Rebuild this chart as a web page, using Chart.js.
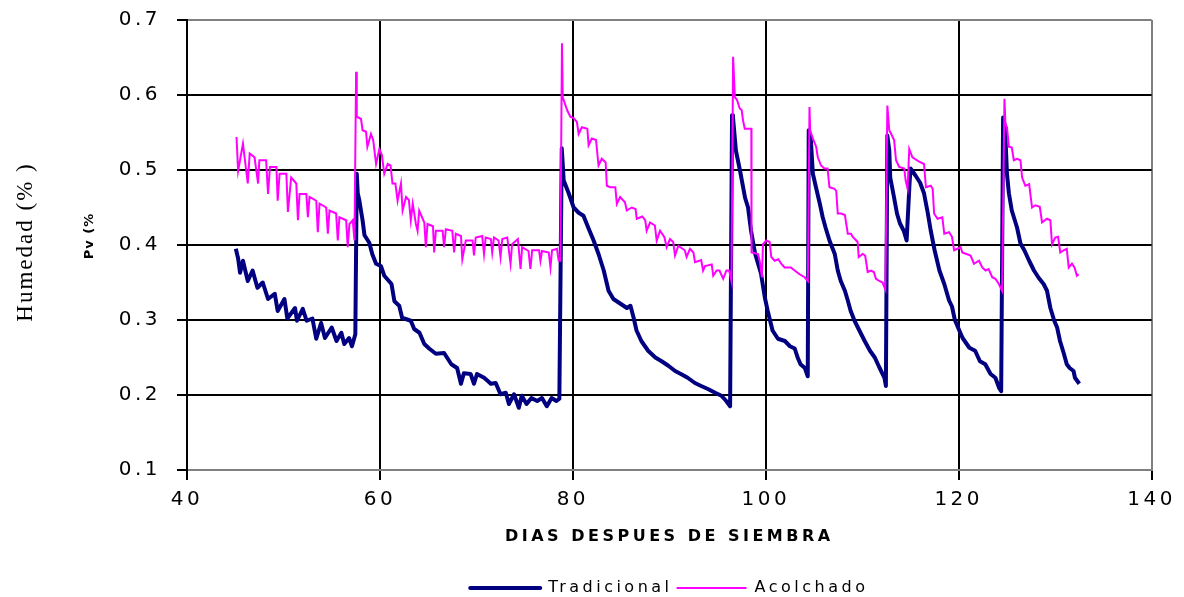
<!DOCTYPE html>
<html>
<head>
<meta charset="utf-8">
<script src="https://cdn.jsdelivr.net/npm/chart.js@4/dist/chart.umd.min.js"></script>
<style>
  html, body { margin: 0; background: #fff; }
  #wrap { width: 1184px; height: 597px; }
</style>
</head>
<body>
<div id="wrap"><canvas id="chart"></canvas></div>
<script>
// días después de siembra / humedad
const tradDia = [
  45.06, 45.3, 45.5, 45.8, 46.3, 46.8, 47.3, 47.85, 48.4, 49.1, 49.4, 50.1, 50.4, 51.2, 51.4, 52.0, 52.4, 53.0, 53.4, 53.9,
  54.3, 55.0, 55.5, 56.0, 56.3, 56.8, 57.1, 57.45, 57.6, 57.7, 57.87, 58.2, 58.4, 58.9, 59.2, 59.6, 60.1, 60.45, 61.2, 61.5,
  62.0, 62.3, 63.2, 63.55, 64.1, 64.6, 65.1, 65.8, 66.65, 67.4, 68.0, 68.4, 68.7, 69.4, 69.75, 70.06, 70.8, 71.5, 72.0, 72.5,
  73.05, 73.37, 73.9, 74.4, 74.7, 75.2, 75.7, 76.3, 76.8, 77.3, 77.8, 78.3, 78.6, 78.85, 79.05, 79.57, 80.08, 80.6, 81.1, 81.6,
  82.15, 82.66, 83.2, 83.7, 84.2, 84.9, 85.6, 85.97, 86.3, 86.6, 87.1, 87.8, 88.55, 89.2, 89.9, 90.6, 91.2, 91.9, 92.65, 93.3,
  94.0, 94.75, 95.4, 95.9, 96.3, 96.5, 96.6, 96.9, 97.33, 97.85, 98.16, 98.47, 98.9, 99.5, 99.9, 100.2, 100.7, 101.26, 101.98, 102.5,
  103.0, 103.3, 103.6, 104.05, 104.35, 104.45, 104.67, 104.88, 105.2, 105.6, 105.9, 106.2, 106.6, 107.15, 107.46, 107.77, 108.2, 108.5, 108.8, 109.2,
  109.7, 110.25, 110.8, 111.3, 111.8, 112.3, 112.45, 112.6, 112.8, 112.9, 113.3, 113.6, 113.9, 114.3, 114.6, 114.9, 115.0, 115.5, 116.0, 116.4,
  116.8, 117.1, 117.5, 118.0, 118.5, 119.0, 119.3, 119.6, 120.06, 120.4, 121.1, 121.7, 122.2, 122.75, 123.3, 123.8, 124.2, 124.4, 124.6, 124.8,
  125.0, 125.2, 125.5, 126.05, 126.4, 126.8, 127.3, 127.8, 128.3, 128.8, 129.15, 129.5, 129.9, 130.2, 130.5, 130.9, 131.2, 131.5, 131.9, 132.05,
  132.5
];
const tradPv = [
  0.395, 0.382, 0.363, 0.379, 0.352, 0.366, 0.343, 0.350, 0.328, 0.335, 0.312, 0.328, 0.302, 0.316, 0.299, 0.315, 0.299, 0.302, 0.275, 0.296,
  0.276, 0.290, 0.272, 0.283, 0.268, 0.276, 0.265, 0.281, 0.495, 0.469, 0.459, 0.433, 0.413, 0.403, 0.388, 0.375, 0.372, 0.359, 0.348, 0.325,
  0.319, 0.303, 0.299, 0.288, 0.283, 0.268, 0.262, 0.255, 0.256, 0.241, 0.236, 0.215, 0.229, 0.228, 0.215, 0.228, 0.223, 0.215, 0.216, 0.201,
  0.203, 0.188, 0.201, 0.183, 0.199, 0.188, 0.196, 0.192, 0.196, 0.185, 0.196, 0.192, 0.195, 0.529, 0.486, 0.469, 0.450, 0.443, 0.439, 0.423,
  0.406, 0.388, 0.366, 0.339, 0.328, 0.322, 0.316, 0.319, 0.303, 0.286, 0.272, 0.259, 0.250, 0.245, 0.239, 0.232, 0.228, 0.223, 0.216, 0.212,
  0.208, 0.203, 0.199, 0.192, 0.185, 0.573, 0.570, 0.526, 0.499, 0.463, 0.450, 0.419, 0.388, 0.362, 0.330, 0.312, 0.286, 0.275, 0.272, 0.265,
  0.262, 0.250, 0.241, 0.236, 0.225, 0.553, 0.540, 0.495, 0.477, 0.455, 0.437, 0.423, 0.406, 0.388, 0.366, 0.352, 0.339, 0.326, 0.312, 0.299,
  0.286, 0.272, 0.259, 0.250, 0.236, 0.223, 0.212, 0.546, 0.526, 0.490, 0.463, 0.442, 0.429, 0.419, 0.406, 0.482, 0.502, 0.493, 0.483, 0.469,
  0.442, 0.419, 0.393, 0.366, 0.348, 0.326, 0.318, 0.300, 0.286, 0.276, 0.263, 0.259, 0.245, 0.241, 0.228, 0.223, 0.209, 0.205, 0.570, 0.557,
  0.495, 0.469, 0.446, 0.423, 0.402, 0.393, 0.379, 0.366, 0.356, 0.348, 0.339, 0.316, 0.299, 0.290, 0.272, 0.255, 0.241, 0.236, 0.232, 0.223,
  0.215
];
const acolDia = [
  45.13, 45.3, 45.8, 46.3, 46.5, 47.0, 47.37, 47.5, 48.2, 48.4, 48.6, 49.27, 49.4, 49.6, 50.3, 50.46, 50.8, 51.33, 51.5, 51.67,
  52.37, 52.53, 52.7, 53.4, 53.56, 53.74, 54.43, 54.6, 54.77, 55.46, 55.63, 55.8, 56.5, 56.66, 56.84, 57.18, 57.36, 57.53, 57.6, 58.04,
  58.2, 58.56, 58.7, 59.07, 59.3, 59.6, 59.94, 60.2, 60.45, 60.8, 61.1, 61.3, 61.6, 61.83, 62.18, 62.35, 62.7, 63.0, 63.2, 63.4,
  63.73, 63.9, 64.07, 64.6, 64.76, 64.93, 65.5, 65.62, 65.8, 66.5, 66.65, 66.83, 67.5, 67.69, 67.86, 68.4, 68.54, 68.9, 69.6, 69.75,
  69.93, 70.6, 70.79, 70.96, 71.5, 71.64, 71.82, 72.3, 72.5, 72.68, 73.2, 73.54, 73.7, 74.3, 74.58, 74.74, 75.4, 75.6, 75.78, 76.5,
  76.64, 76.8, 77.5, 77.68, 77.84, 78.35, 78.53, 78.7, 78.87, 78.95, 79.4, 79.74, 80.1, 80.42, 80.6, 80.94, 81.5, 81.63, 81.97, 82.4,
  82.66, 83.0, 83.4, 83.52, 83.87, 84.4, 84.56, 84.9, 85.4, 85.59, 86.1, 86.5, 86.62, 87.2, 87.5, 87.65, 88.0, 88.5, 88.69, 89.04,
  89.5, 89.72, 90.07, 90.4, 90.59, 90.93, 91.6, 91.79, 92.14, 92.5, 92.66, 93.3, 93.5, 93.7, 94.4, 94.55, 94.9, 95.2, 95.58, 95.92,
  96.2, 96.44, 96.61, 96.79, 97.0, 97.3, 97.5, 97.64, 97.82, 98.5, 98.52, 99.19, 99.37, 99.6, 99.71, 100.05, 100.4, 100.57, 100.92, 101.3,
  101.6, 101.95, 102.6, 102.99, 103.5, 104.02, 104.36, 104.53, 104.6, 104.88, 105.22, 105.39, 105.73, 106.08, 106.4, 106.6, 107.12, 107.3, 107.46, 107.8,
  108.2, 108.5, 108.83, 109.0, 109.52, 109.63, 110.04, 110.3, 110.56, 110.9, 111.2, 111.42, 111.77, 112.1, 112.39, 112.6, 112.8, 113.0, 113.3, 113.5,
  113.83, 114.35, 114.5, 114.7, 114.87, 115.2, 115.9, 116.4, 116.6, 117.1, 117.3, 117.45, 117.8, 118.3, 118.5, 119.0, 119.3, 119.52, 119.86, 120.2,
  120.37, 120.8, 121.23, 121.58, 122.1, 122.44, 122.78, 123.1, 123.47, 123.8, 124.16, 124.5, 124.74, 124.84, 125.0, 125.2, 125.5, 125.71, 126.05, 126.4,
  126.57, 126.9, 127.3, 127.6, 127.94, 128.4, 128.64, 129.15, 129.5, 129.67, 130.0, 130.3, 130.53, 130.88, 131.2, 131.4, 131.74, 132.0, 132.25, 132.43
];
const acolPv = [
  0.544, 0.499, 0.535, 0.482, 0.522, 0.517, 0.482, 0.513, 0.513, 0.468, 0.504, 0.504, 0.459, 0.495, 0.495, 0.444, 0.490, 0.482, 0.433, 0.468,
  0.468, 0.437, 0.464, 0.459, 0.417, 0.455, 0.450, 0.415, 0.446, 0.442, 0.406, 0.437, 0.433, 0.397, 0.428, 0.433, 0.406, 0.631, 0.571, 0.568,
  0.553, 0.551, 0.531, 0.548, 0.540, 0.508, 0.528, 0.520, 0.495, 0.508, 0.506, 0.482, 0.482, 0.459, 0.482, 0.446, 0.464, 0.460, 0.433, 0.455,
  0.428, 0.419, 0.446, 0.430, 0.397, 0.428, 0.425, 0.390, 0.419, 0.419, 0.397, 0.421, 0.419, 0.390, 0.415, 0.412, 0.381, 0.406, 0.406, 0.386,
  0.410, 0.412, 0.388, 0.410, 0.408, 0.390, 0.410, 0.406, 0.384, 0.408, 0.410, 0.375, 0.401, 0.408, 0.368, 0.397, 0.392, 0.368, 0.393, 0.393,
  0.379, 0.392, 0.390, 0.370, 0.393, 0.395, 0.379, 0.379, 0.669, 0.597, 0.580, 0.571, 0.569, 0.564, 0.548, 0.557, 0.555, 0.533, 0.542, 0.540,
  0.506, 0.515, 0.510, 0.479, 0.477, 0.477, 0.455, 0.464, 0.457, 0.446, 0.450, 0.448, 0.435, 0.438, 0.433, 0.419, 0.430, 0.426, 0.406, 0.419,
  0.410, 0.397, 0.408, 0.404, 0.386, 0.399, 0.393, 0.384, 0.395, 0.390, 0.377, 0.380, 0.366, 0.372, 0.374, 0.359, 0.366, 0.366, 0.355, 0.366,
  0.366, 0.352, 0.651, 0.597, 0.594, 0.582, 0.580, 0.566, 0.555, 0.555, 0.390, 0.388, 0.379, 0.357, 0.401, 0.406, 0.404, 0.384, 0.379, 0.381,
  0.375, 0.370, 0.370, 0.366, 0.361, 0.357, 0.352, 0.584, 0.553, 0.542, 0.531, 0.517, 0.506, 0.502, 0.502, 0.477, 0.475, 0.472, 0.442, 0.442,
  0.440, 0.415, 0.415, 0.411, 0.404, 0.384, 0.388, 0.386, 0.364, 0.366, 0.364, 0.355, 0.352, 0.350, 0.341, 0.586, 0.553, 0.548, 0.540, 0.513,
  0.504, 0.502, 0.486, 0.475, 0.528, 0.517, 0.511, 0.508, 0.477, 0.479, 0.475, 0.442, 0.435, 0.437, 0.415, 0.417, 0.411, 0.393, 0.395, 0.397,
  0.390, 0.388, 0.386, 0.375, 0.379, 0.370, 0.366, 0.368, 0.357, 0.355, 0.348, 0.339, 0.595, 0.562, 0.557, 0.531, 0.530, 0.513, 0.515, 0.513,
  0.490, 0.479, 0.481, 0.450, 0.453, 0.451, 0.430, 0.435, 0.433, 0.401, 0.410, 0.411, 0.390, 0.393, 0.395, 0.370, 0.375, 0.370, 0.359, 0.361
];
const xTicks = [40, 60, 80, 100, 120, 140];
const yTicks = [0.1, 0.2, 0.3, 0.4, 0.5, 0.6, 0.7];

const toPoints = (xs, ys) => xs.map((x, i) => ({ x: x, y: ys[i] }));

const SANS = '"DejaVu Sans", Verdana, sans-serif';

// Excel-like spaced lettering
const spacing = {
  id: 'spacing',
  beforeUpdate(chart) { chart.ctx.letterSpacing = '3.5px'; },
  beforeDraw(chart) { chart.ctx.letterSpacing = '3.5px'; }
};

const sideTitles = {
  id: 'sideTitles',
  afterDraw(chart) {
    const ctx = chart.ctx;
    ctx.save();
    ctx.fillStyle = '#000';
    ctx.textAlign = 'center';
    ctx.textBaseline = 'middle';
    ctx.letterSpacing = '2px';
    ctx.translate(26, 242);
    ctx.rotate(-Math.PI / 2);
    ctx.font = '23px "Liberation Serif", "Times New Roman", serif';
    ctx.fillText('Humedad (% )', 0, 0);
    ctx.restore();

    ctx.save();
    ctx.fillStyle = '#000';
    ctx.textAlign = 'center';
    ctx.textBaseline = 'middle';
    ctx.letterSpacing = '1px';
    ctx.translate(90, 236);
    ctx.rotate(-Math.PI / 2);
    ctx.font = 'bold 13px ' + SANS;
    ctx.fillText('Pv (%', 0, 0);
    ctx.restore();
  }
};

new Chart(document.getElementById('chart'), {
  type: 'line',
  data: {
    datasets: [
      {
        label: 'Tradicional',
        data: toPoints(tradDia, tradPv),
        borderColor: '#000080',
        backgroundColor: '#000080',
        borderWidth: 4,
        pointRadius: 0,
        tension: 0,
        borderJoinStyle: 'round',
        order: 1
      },
      {
        label: 'Acolchado',
        data: toPoints(acolDia, acolPv),
        borderColor: '#ff00ff',
        backgroundColor: '#ff00ff',
        borderWidth: 2,
        pointRadius: 0,
        tension: 0,
        order: 0
      }
    ]
  },
  options: {
    responsive: true,
    maintainAspectRatio: false,
    animation: false,
    layout: { padding: { top: 20, right: 29, left: 0, bottom: -9 } },
    scales: {
      x: {
        type: 'linear',
        min: 40,
        max: 140,
        afterBuildTicks: (s) => { s.ticks = xTicks.map(v => ({ value: v })); },
        afterFit: (s) => { s.height = 106; },
        ticks: {
          color: '#000',
          padding: 8,
          maxRotation: 0,
          font: { family: SANS, size: 20 }
        },
        grid: {
          color: (c) => (c.tick && c.tick.value === 140 ? '#808080' : '#000'),
          tickColor: '#000',
          lineWidth: 2,
          tickLength: 10
        },
        border: { color: '#808080', width: 2 },
        title: {
          display: true,
          text: 'DIAS DESPUES DE SIEMBRA',
          color: '#000',
          font: { family: SANS, size: 16, weight: 'bold' },
          padding: { top: 0, bottom: 30 }
        }
      },
      y: {
        min: 0.1,
        max: 0.7,
        afterBuildTicks: (s) => { s.ticks = yTicks.map(v => ({ value: v })); },
        afterFit: (s) => {
          s.width = 187;
          s.paddingTop = 10;
          s.paddingBottom = 10;
        },
        ticks: {
          color: '#000',
          padding: 16,
          callback: (v) => Number(v).toFixed(1),
          font: { family: SANS, size: 20 }
        },
        grid: {
          color: (c) => (c.tick && (c.tick.value === 0.7 || c.tick.value === 0.1) ? '#808080' : '#000'),
          tickColor: '#000',
          lineWidth: 2,
          tickLength: 10
        },
        border: { color: '#000', width: 2 }
      }
    },
    plugins: {
      legend: {
        position: 'bottom',
        fullSize: false,
        labels: {
          color: '#000',
          boxWidth: 70,
          boxHeight: 0,
          padding: 4,
          sort: (a, b) => a.datasetIndex - b.datasetIndex,
          font: { family: SANS, size: 16 }
        }
      },
      tooltip: { enabled: false }
    }
  },
  plugins: [spacing, sideTitles]
});
</script>
</body>
</html>
